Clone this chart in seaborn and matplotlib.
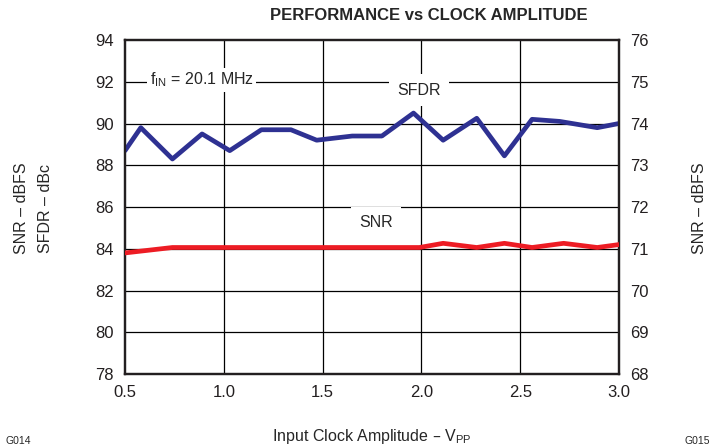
import numpy as np
import pandas as pd
import matplotlib
matplotlib.use("Agg")
import matplotlib.pyplot as plt
import seaborn as sns

# Data
sfdr_clock = [0.5, 0.58, 0.74, 0.89, 1.03, 1.19, 1.34, 1.47, 1.65, 1.80,
              1.96, 2.11, 2.28, 2.42, 2.56, 2.70, 2.89, 3.0]
sfdr_dbc = [88.7, 89.8, 88.3, 89.5, 88.7, 89.7, 89.7, 89.2, 89.4, 89.4,
            90.5, 89.2, 90.25, 88.45, 90.2, 90.1, 89.8, 90.0]

snr_clock = [0.5, 0.74, 1.0, 1.5, 1.99, 2.11, 2.28, 2.42, 2.56, 2.72, 2.89, 3.0]
snr_dbfs = [70.9, 71.03, 71.03, 71.03, 71.03, 71.13, 71.03, 71.13, 71.03, 71.13, 71.03, 71.1]

left_ticks = [78, 80, 82, 84, 86, 88, 90, 92, 94]
right_ticks = [68, 69, 70, 71, 72, 73, 74, 75, 76]
x_ticks = [0.5, 1.0, 1.5, 2.0, 2.5, 3.0]

sfdr = pd.DataFrame({"clock": sfdr_clock, "value": sfdr_dbc})
snr = pd.DataFrame({"clock": snr_clock, "value": snr_dbfs})

sns.set_style("white")
plt.rcParams["font.family"] = ["Liberation Sans", "DejaVu Sans"]

fig = plt.figure(figsize=(7.16, 4.48), dpi=100)
ax = fig.add_axes([125 / 716, 1 - 374 / 448, (619 - 125) / 716, (374 - 40) / 448])

# grid
for x in x_ticks[1:-1]:
    ax.axvline(x, color="black", lw=0.9, zorder=1)
for y in left_ticks[1:-1]:
    ax.axhline(y, color="black", lw=0.9, zorder=1)

sns.lineplot(data=sfdr, x="clock", y="value", ax=ax, color="#2E3192",
             lw=3.4, zorder=3)

ax2 = ax.twinx()
sns.lineplot(data=snr, x="clock", y="value", ax=ax2, color="#ED1C24",
             lw=3.4, zorder=3)

ax.set_xlim(0.5, 3.0)
ax.set_ylim(78, 94)
ax2.set_ylim(68, 76)
ax.set_xticks(x_ticks)
ax.set_xticklabels([f"{v:.1f}" for v in x_ticks])
ax.set_yticks(left_ticks)
ax2.set_yticks(right_ticks)
ax.set_xlabel("")
ax.set_ylabel("")
ax2.set_ylabel("")

for a in (ax, ax2):
    a.tick_params(length=0, labelsize=12, colors="#231F20", pad=8)
    for s in a.spines.values():
        s.set_linewidth(1.6)
        s.set_color("#231F20")

box = dict(facecolor="white", edgecolor="none", pad=2)
ax.text(0.625, 92.1, r"f$_{\mathregular{IN}}$ = 20.1 MHz", fontsize=11.5,
        va="center", ha="left", bbox=box, zorder=4)
ax.text(1.99, 91.6, "SFDR", fontsize=11.5, ha="center", va="center",
        bbox=dict(facecolor="white", edgecolor="none", pad=6), zorder=4)
ax.text(1.77, 85.25, "SNR", fontsize=11.5, ha="center", va="center",
        bbox=dict(facecolor="white", edgecolor="none", pad=6), zorder=4)

fig.text(429 / 716, 1 - 15 / 448, "PERFORMANCE vs CLOCK AMPLITUDE",
         fontsize=12, fontweight="bold", ha="center", va="center")
fig.text(372 / 716, 1 - 436 / 448, r"Input Clock Amplitude – V$_{\mathregular{PP}}$",
         fontsize=11.5, ha="center", va="center")
fig.text(22 / 716, 1 - 208 / 448, "SNR – dBFS", rotation=90, fontsize=11.5,
         ha="center", va="center")
fig.text(46 / 716, 1 - 208 / 448, "SFDR – dBc", rotation=90, fontsize=11.5,
         ha="center", va="center")
fig.text(700 / 716, 1 - 208 / 448, "SNR – dBFS", rotation=90, fontsize=11.5,
         ha="center", va="center")
fig.text(5 / 716, 1 - 441 / 448, "G014", fontsize=7.5, ha="left", va="center")
fig.text(710 / 716, 1 - 441 / 448, "G015", fontsize=7.5, ha="right", va="center")

fig.savefig("out.png", dpi=100)
